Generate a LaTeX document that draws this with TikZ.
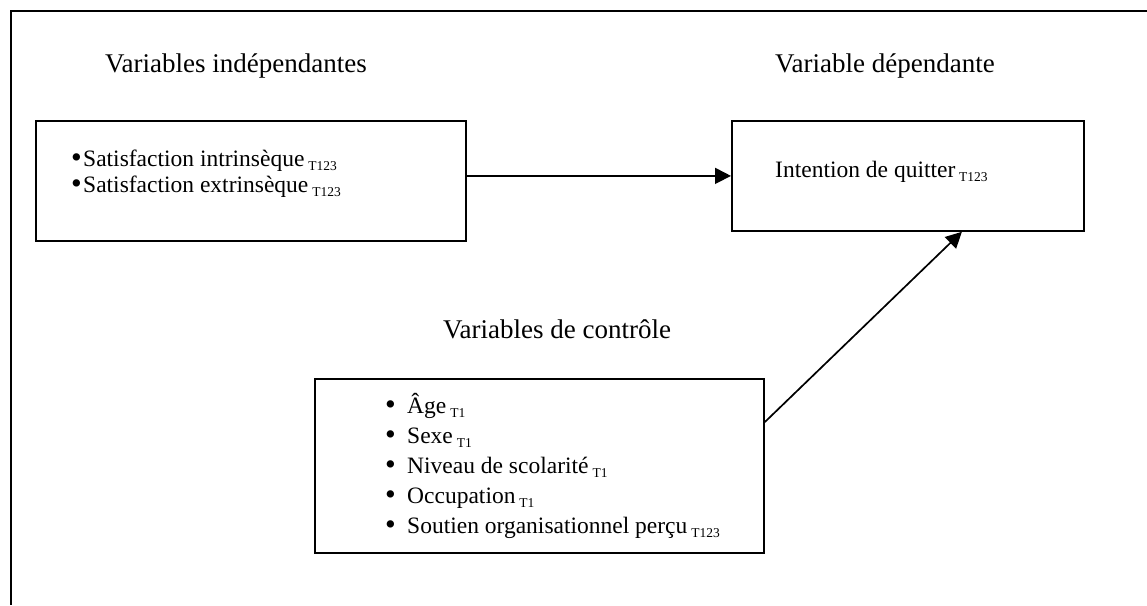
\documentclass[tikz,border=0pt]{standalone}
\usepackage{fontspec}
\setmainfont{Liberation Serif}
\usetikzlibrary{arrows.meta}

\newcommand{\tsub}[1]{\,\raisebox{-4pt}{\fontsize{13.5}{13.5}\selectfont #1}}
\newcommand{\blt}{\raisebox{-1.5pt}{\scalebox{1.3}{\textbullet}}}

\tikzset{
  box/.style={draw, line width=1.8pt, anchor=north west, inner sep=0pt},
  title/.style={anchor=base west, inner sep=0pt, font=\fontsize{27}{30}\selectfont},
  item/.style={anchor=base west, inner sep=0pt, font=\fontsize{23.5}{25}\selectfont},
  link/.style={line width=1.7pt, -{Triangle[length=16pt,width=16pt]}},
}

\begin{document}
\begin{tikzpicture}[x=1pt,y=-1pt]
    \useasboundingbox (0,0) rectangle (1147,605);
    \draw[line width=2.2pt] (1147,11) -- (11,11) -- (11,605);
    % titles
    \node[title] (ttlindep) at (105,72) {Variables indépendantes};
    \node[title] (ttldep) at (775,72) {Variable dépendante};
    \node[title] (ttlctrl) at (443,338) {Variables de contrôle};
    % boxes
    \node[box, minimum width=430pt, minimum height=120pt] (indep) at (35,120) {};
    \node[box, minimum width=352pt, minimum height=110pt] (dep) at (731,120) {};
    \node[box, minimum width=449pt, minimum height=174pt] (ctrl) at (314,378) {};
    % box contents
    \node[item, align=left, font=\fontsize{23.5}{26}\selectfont] (satis) at (71,192)
      {\makebox[12pt][l]{\blt}Satisfaction intrinsèque\tsub{T123}\\
       \makebox[12pt][l]{\blt}Satisfaction extrinsèque\tsub{T123}};
    \node[item] (quit) at (775,177) {Intention de quitter\tsub{T123}};
    \foreach \txt [count=\i] in {Âge\tsub{T1}, Sexe\tsub{T1}, Niveau de scolarité\tsub{T1},
        Occupation\tsub{T1}, Soutien organisationnel perçu\tsub{T123}}
      \node[item] (ctrl\i) at (385,{383+30*\i}) {\makebox[22pt][l]{\blt}\txt};
    % arrows
    \draw[link] (indep.east |- dep.west) -- (dep.west);
    \draw[link] (ctrl.11) -- (dep.-46);
\end{tikzpicture}
\end{document}
